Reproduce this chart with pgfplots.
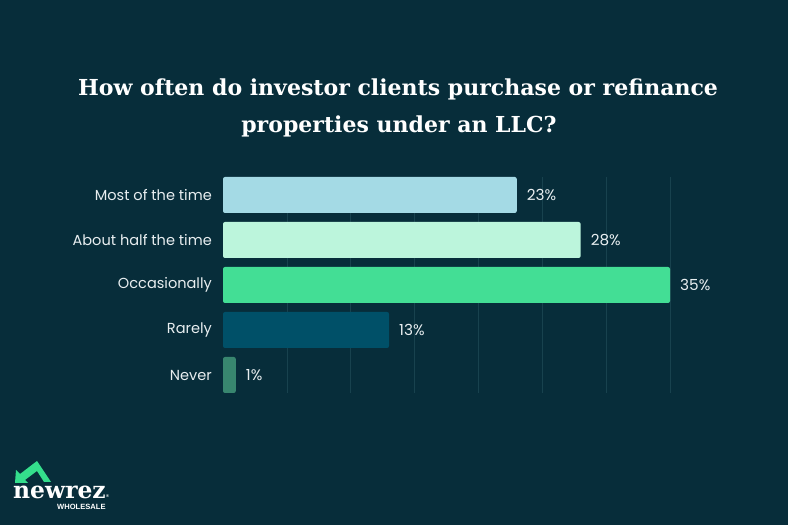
\documentclass[border=0pt]{standalone}
\usepackage{pgfplots}
\pgfplotsset{compat=1.18}
\usepackage{fontspec}
\setmainfont{Poppins}
\newfontfamily\titlefont{DejaVu Serif}
\newfontfamily\logosans{Liberation Sans}
\definecolor{bg}{RGB}{7,45,58}
\definecolor{gridc}{RGB}{24,66,78}
\definecolor{cA}{RGB}{164,218,229}
\definecolor{cB}{RGB}{188,245,220}
\definecolor{cC}{RGB}{67,222,149}
\definecolor{cD}{RGB}{0,80,104}
\definecolor{cE}{RGB}{56,134,111}
\definecolor{lbl}{RGB}{232,238,240}
\definecolor{logog}{RGB}{52,222,140}
\begin{document}
\begin{tikzpicture}[x=1bp,y=1bp]
\fill[bg] (0,0) rectangle (788,525);
\useasboundingbox (0,0) rectangle (788,525);
% title
\node[anchor=base,text=white,font=\titlefont\bfseries\fontsize{22.1}{26}\selectfont,inner sep=0pt] at (398,429) {How often do investor clients purchase or refinance};
\node[anchor=base,text=white,font=\titlefont\bfseries\fontsize{22.1}{26}\selectfont,inner sep=0pt] at (399,392) {properties under an LLC?};
\begin{axis}[
  at={(223bp,132bp)}, anchor=south west,
  scale only axis, width=447bp, height=216bp,
  xmin=0, xmax=35, ymin=-0.4, ymax=4.4, y dir=reverse,
  axis line style={draw=none},
  xtick={5,10,...,35}, xticklabels={},
  xmajorgrids, major grid style={gridc, line width=0.6pt},
  ytick={0,1,2,3,4},
  yticklabels={Most of the time, About half the time, Occasionally, Rarely, Never},
  major tick length=0pt,
  yticklabel style={font=\fontsize{14.6}{16}\selectfont, text=lbl, inner sep=0pt, xshift=-11bp},
  xbar, bar width=36bp, bar shift=0pt,
  point meta=x,
  nodes near coords={\pgfmathprintnumber{\pgfplotspointmeta}\%},
  nodes near coords style={font=\fontsize{15.3}{17}\selectfont, text=lbl, anchor=west, inner sep=0pt, xshift=10bp},
  /pgf/number format/assume math mode=true,
  clip=false,
]
\addplot[fill=cA, draw=none, rounded corners=2bp] coordinates {(23,0)};
\addplot[fill=cB, draw=none, rounded corners=2bp] coordinates {(28,1)};
\addplot[fill=cC, draw=none, rounded corners=2bp] coordinates {(35,2)};
\addplot[fill=cD, draw=none, rounded corners=2bp] coordinates {(13,3)};
\addplot[fill=cE, draw=none, rounded corners=2bp] coordinates {(1,4)};
\end{axis}
% logo
\fill[logog] (15,42) -- (16,55) -- (20,51) -- (37,64) -- (51,43) -- (44,43) -- (37,54) -- (25,45) -- (28,42) -- cycle;
\node[anchor=base west,text=white,font=\titlefont\bfseries\fontsize{23.5}{26}\selectfont,inner sep=0pt] at (13,26) {newrez};
\node[anchor=base west,text=white,font=\logosans\bfseries\fontsize{4}{5}\selectfont,inner sep=0pt] at (106,27) {®};
\node[anchor=base west,text=white,font=\logosans\bfseries\fontsize{7.6}{8}\selectfont,inner sep=0pt] at (57,15) {WHOLESALE};
\end{tikzpicture}
\end{document}
